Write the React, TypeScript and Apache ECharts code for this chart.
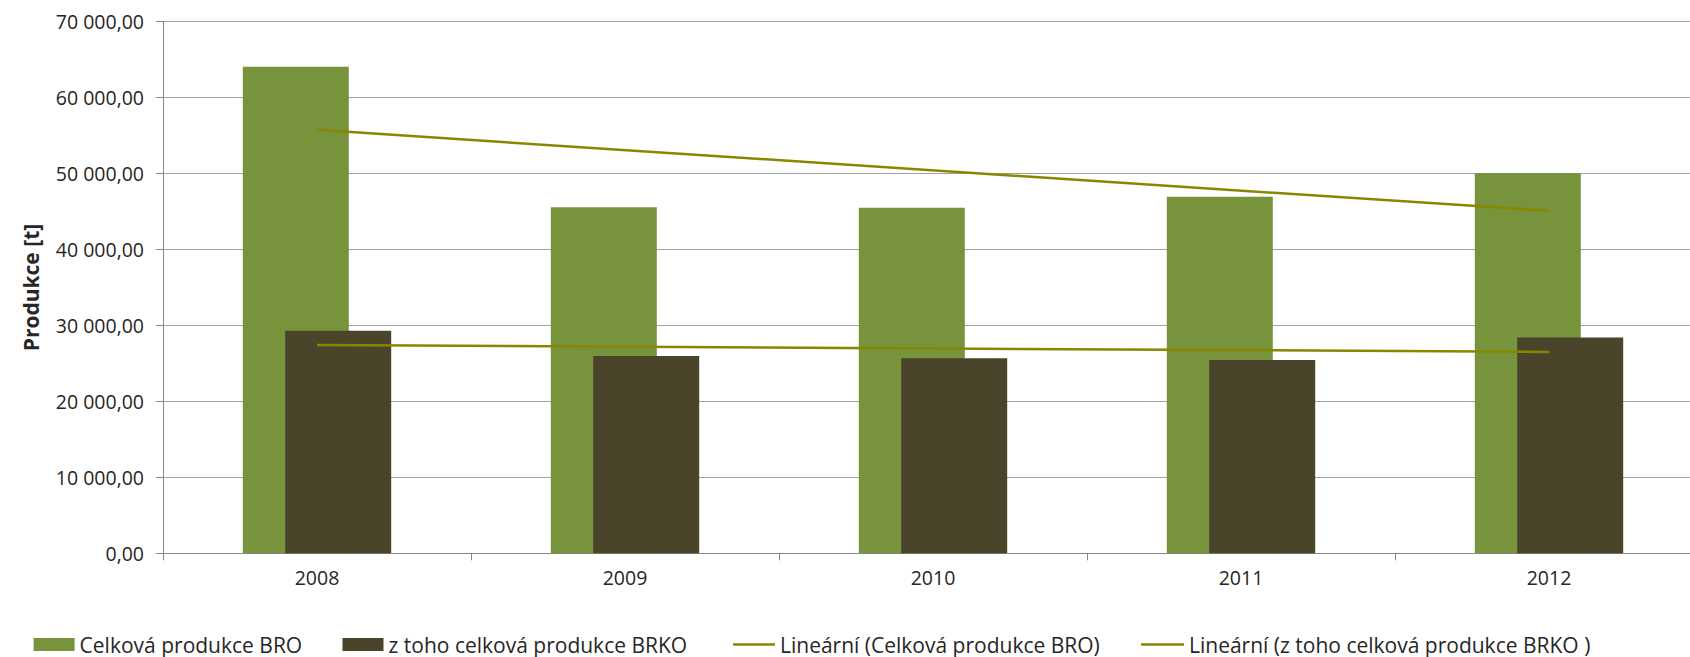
import React, { useEffect, useRef } from "react";
import * as echarts from "echarts";

const categories = ["2008", "2009", "2010", "2011", "2012"];
const broValues = [64070, 45560, 45510, 46960, 50050];
const brkoValues = [29310, 25980, 25680, 25450, 28430];
// Trend lines as drawn in the picture: values read at the first and last year
const broTrend = [55760, null, null, null, 45090];
const brkoTrend = [27430, null, null, null, 26520];

const seriesNames = [
  "Celková produkce BRO",
  "z toho celková produkce BRKO",
  "Lineární (Celková produkce BRO)",
  "Lineární (z toho celková produkce BRKO )",
];

const FONT = "'Open Sans', 'Noto Sans', sans-serif";
const TEXT = "#262626";
const GREEN = "#77933C";
const DARK = "#4A452A";
const TREND = "#888800";

function fmt(v: number): string {
  const s = Math.round(v)
    .toString()
    .replace(/\B(?=(\d{3})+(?!\d))/g, "\u00a0");
  return s + ",00";
}

export default function App() {
  const ref = useRef<HTMLDivElement>(null);
  useEffect(() => {
    document.body.style.margin = "0";
    const chart = echarts.init(ref.current!, null, { renderer: "svg" });
    const legendText = { fontFamily: FONT, fontSize: 21, color: TEXT };
    chart.setOption({
      animation: false,
      backgroundColor: "#ffffff",
      grid: {
        left: 163, top: 21.7, width: 1540, height: 531.6,
        containLabel: false, outerBoundsMode: "none",
      },
      legend: [
        {
          data: [seriesNames[0]], left: 33.6, top: 634, padding: 0,
          icon: "rect", itemWidth: 41, itemHeight: 13, textStyle: legendText,
        },
        {
          data: [seriesNames[1]], left: 342.5, top: 634, padding: 0,
          icon: "rect", itemWidth: 41, itemHeight: 13, textStyle: legendText,
        },
        {
          data: [seriesNames[2]], left: 733, top: 634, padding: 0,
          icon: "rect", itemWidth: 42, itemHeight: 2.5, textStyle: legendText,
        },
        {
          data: [seriesNames[3]], left: 1141, top: 634, padding: 0,
          icon: "rect", itemWidth: 43, itemHeight: 2.5, textStyle: legendText,
        },
      ],
      xAxis: {
        type: "category",
        data: categories,
        axisLine: { show: true, lineStyle: { color: "#868686", width: 1 } },
        axisTick: { show: true, length: 7, lineStyle: { color: "#868686" } },
        axisLabel: { fontFamily: FONT, fontSize: 19.5, color: TEXT, margin: 14 },
        splitLine: { show: false },
      },
      yAxis: {
        type: "value",
        min: 0,
        max: 70000,
        interval: 10000,
        name: "Produkce [t]",
        nameLocation: "middle",
        nameRotate: 90,
        nameGap: 122,
        nameTextStyle: { fontFamily: FONT, fontSize: 21, fontWeight: "bold", color: TEXT },
        axisLine: { show: true, lineStyle: { color: "#868686", width: 1 } },
        axisTick: { show: true, length: 7, lineStyle: { color: "#868686" } },
        axisLabel: {
          fontFamily: FONT, fontSize: 19.5, color: TEXT, margin: 19,
          formatter: (v: number) => fmt(v),
        },
        splitLine: { show: true, lineStyle: { color: "#a0a0a0", width: 1 } },
      },
      series: [
        {
          name: seriesNames[0],
          type: "bar",
          data: broValues,
          barWidth: 106,
          barGap: "-60%",
          itemStyle: { color: GREEN },
          z: 2,
        },
        {
          name: seriesNames[1],
          type: "bar",
          data: brkoValues,
          barWidth: 106,
          barGap: "-60%",
          itemStyle: { color: DARK },
          z: 2,
        },
        {
          name: seriesNames[2],
          type: "line",
          data: broTrend,
          connectNulls: true,
          symbol: "none",
          itemStyle: { color: TREND },
          lineStyle: { color: TREND, width: 2.5 },
          z: 5,
        },
        {
          name: seriesNames[3],
          type: "line",
          data: brkoTrend,
          connectNulls: true,
          symbol: "none",
          itemStyle: { color: TREND },
          lineStyle: { color: TREND, width: 2.5 },
          z: 5,
        },
      ],
    });
    return () => chart.dispose();
  }, []);
  return <div ref={ref} style={{ width: 1690, height: 657 }} />;
}
